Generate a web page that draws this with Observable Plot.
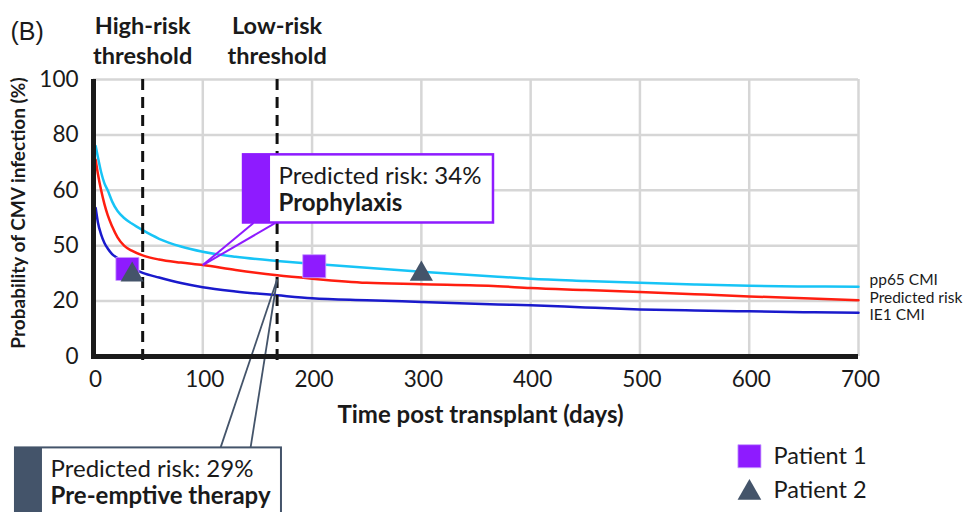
<!DOCTYPE html>
<html><head><meta charset="utf-8">
<script src="https://cdn.jsdelivr.net/npm/d3@7"></script>
<script src="https://cdn.jsdelivr.net/npm/@observablehq/plot@0.6"></script>
<style>html,body{margin:0;padding:0;background:#fff;overflow:hidden}svg{display:block}</style>
</head><body><div id="chart"></div>
<script>
// ---- data ----
const days      = [2, 4, 7, 10, 13, 17, 22, 28, 35, 45, 60, 80, 100, 130, 168, 200, 250, 300, 370, 400, 450, 500, 550, 600, 650, 700];
const pp65      = [76, 72, 66.5, 62.5, 60, 56, 52.5, 50, 48, 45.6, 42.5, 39.7, 37.8, 36, 34.5, 33.5, 32, 30.6, 28.8, 28.1, 27.3, 26.6, 26, 25.5, 25.3, 25.2];
const predicted = [71, 66, 60, 55, 51, 47, 43, 40, 38.2, 36.5, 35, 33.9, 33, 31.2, 29.3, 28.1, 26.6, 26.1, 25.4, 24.7, 24, 23.3, 22.5, 21.7, 21, 20.3];
const ie1       = [53.6, 48.5, 44, 41, 39, 37, 35.5, 33.5, 32, 30.2, 28.5, 26.5, 25, 23.5, 22.1, 21, 20.3, 19.7, 18.8, 18.5, 17.7, 17, 16.6, 16.3, 16, 15.8];
const seriesNames = ["pp65 CMI", "Predicted risk", "IE1 CMI"];
const seriesLabelY = [27.5, 21.2, 14.8];

const patient1Days = [31, 202];
const patient1Risk = [31.6, 32.6];
const patient2Days = [35.4, 300];
const patient2Risk = [29.5, 29.8];
const patientNames = ["Patient 1", "Patient 2"];

const thresholdDays  = [45, 168];
const thresholdNames = ["High-risk\nthreshold", "Low-risk\nthreshold"];

const xTicks = [0, 100, 200, 300, 400, 500, 600, 700];
const yTicks = [0, 20, 40, 60, 80, 100];
const yTickLabels = ["0", "20", "50", "60", "80", "100"];

const callout1Text = ["Predicted risk: 34%", "Prophylaxis"];
const callout1Target = {day: 100, risk: 33};
const callout2Text = ["Predicted risk: 29%", "Pre-emptive therapy"];
const callout2Target = {day: 168, risk: 27.8};

// ---- styling ----
const C = {pp65: "#17C4F6", pred: "#FF1E10", ie1: "#1A1ACC", p1: "#8E1BFF", p2: "#44546A", grid: "#d6d6d6", axis: "#1a1a1a"};
const F = "Lato, 'Open Sans', sans-serif";

const rows = (vals) => days.map((d, i) => ({day: d, value: vals[i]}));
const pts = (ds, vs) => ds.map((d, i) => ({day: d, value: vs[i]}));

// callout geometry (in data units)
const box1 = {x1: 137.3, xs: 162, x2: 366, y1: 48.2, y2: 72.8};
const lead1 = [146.4, 166.5].map(x => ({x1: x, y1: box1.y1, x2: callout1Target.day, y2: callout1Target.risk}));
const box2 = {x1: -71.4, xs: -46.7, x2: 172, y1: -33, y2: -62};
const lead2 = [116.2, 143.7].map(x => ({x1: x, y1: box2.y1, x2: callout2Target.day, y2: callout2Target.risk}));

const chart = Plot.plot({
  width: 966, height: 512,
  marginLeft: 93, marginRight: 108, marginTop: 79, marginBottom: 156,
  style: {fontFamily: F, background: "#fff", color: "#1a1a1a"},
  x: {domain: [0, 700]},
  y: {domain: [0, 100]},
  marks: [
    Plot.gridX(xTicks.filter(d => d > 0), {stroke: C.grid, strokeOpacity: 1, strokeWidth: 2.5}),
    Plot.gridY(yTicks.filter(d => d > 0), {stroke: C.grid, strokeOpacity: 1, strokeWidth: 2.5}),
    Plot.axisX({ticks: xTicks, tickSize: 0, tickPadding: 15, fontSize: 22.5, label: null, dx: 2}),
    Plot.axisY({ticks: yTicks, tickSize: 0, tickPadding: 15, fontSize: 22.5, label: null,
      tickFormat: d => yTickLabels[yTicks.indexOf(d)]}),
    Plot.line(rows(pp65), {x: "day", y: "value", stroke: C.pp65, strokeWidth: 2.5, curve: "monotone-x"}),
    Plot.line(rows(predicted), {x: "day", y: "value", stroke: C.pred, strokeWidth: 2.5, curve: "monotone-x"}),
    Plot.line(rows(ie1), {x: "day", y: "value", stroke: C.ie1, strokeWidth: 2.5, curve: "monotone-x"}),
    Plot.ruleX(thresholdDays, {stroke: "#111", strokeWidth: 3, strokeDasharray: "11,7", insetBottom: -10}),
    Plot.text(thresholdDays, {x: d => d, y: () => 100, text: (d, i) => thresholdNames[i], dy: -40,
      lineHeight: 1.28, fontSize: 23.5, fontWeight: "bold"}),
    Plot.text(seriesNames, {x: () => 700, y: (d, i) => seriesLabelY[i], text: d => d, dx: 11,
      textAnchor: "start", fontSize: 15.5}),
    // callout 1
    Plot.link(lead1, {x1: "x1", y1: "y1", x2: "x2", y2: "y2", stroke: C.p1, strokeWidth: 2}),
    Plot.rect([box1], {x1: "x1", x2: "x2", y1: "y1", y2: "y2", fill: "#fff", stroke: C.p1, strokeWidth: 2.5}),
    Plot.rect([box1], {x1: "x1", x2: "xs", y1: "y1", y2: "y2", fill: C.p1}),
    Plot.text([callout1Text[0]], {x: () => 169.3, y: () => 64.9, textAnchor: "start", fontSize: 24}),
    Plot.text([callout1Text[1]], {x: () => 169.3, y: () => 55.4, textAnchor: "start", fontSize: 24, fontWeight: "bold"}),
    // callout 2
    Plot.link(lead2, {x1: "x1", y1: "y1", x2: "x2", y2: "y2", stroke: C.p2, strokeWidth: 1.8}),
    Plot.rect([box2], {x1: "x1", x2: "x2", y1: "y1", y2: "y2", fill: "#fff", stroke: C.p2, strokeWidth: 2}),
    Plot.rect([box2], {x1: "x1", x2: "xs", y1: "y1", y2: "y2", fill: C.p2}),
    Plot.text([callout2Text[0]], {x: () => -39.3, y: () => -40.9, textAnchor: "start", fontSize: 24}),
    Plot.text([callout2Text[1]], {x: () => -39.3, y: () => -50.4, textAnchor: "start", fontSize: 24, fontWeight: "bold"}),
    // patients
    Plot.dot(pts(patient1Days, patient1Risk), {x: "day", y: "value", symbol: "square", r: 13, fill: C.p1, stroke: "#c9a2ff", strokeWidth: 0.8}),
    Plot.dot(pts(patient2Days, patient2Risk), {x: "day", y: "value", symbol: "triangle", r: 8.6, fill: C.p2}),
    // axis lines
    Plot.ruleX([0], {stroke: C.axis, strokeWidth: 5}),
    Plot.ruleY([0], {stroke: C.axis, strokeWidth: 5, insetLeft: -2}),
    // axis titles
    Plot.text(["Probability of CMV infection (%)"], {frameAnchor: "left", textAnchor: "middle", rotate: -90, dx: -75, dy: -5,
      fontWeight: "bold", fontSize: 19}),
    Plot.text(["Time post transplant (days)"], {frameAnchor: "bottom", textAnchor: "middle", dx: 4.5, dy: 66, fontWeight: "bold", fontSize: 24}),
    Plot.text(["(B)"], {frameAnchor: "top-left", dx: -83, dy: -57, textAnchor: "start", fontSize: 25,
      fontFamily: "'Liberation Sans', Arial, sans-serif"}),
    // patient legend
    Plot.dot([patientNames[0]], {x: () => 600.2, y: () => -36, symbol: "square", r: 13, fill: C.p1, stroke: "#c9a2ff", strokeWidth: 0.8}),
    Plot.dot([patientNames[1]], {x: () => 600.2, y: () => -49.2, symbol: "triangle", r: 8.8, fill: C.p2}),
    Plot.text(patientNames, {x: () => 600.2, y: (d, i) => [-36, -48.2][i], text: d => d, dx: 24, textAnchor: "start", fontSize: 23.5})
  ]
});
document.getElementById("chart").appendChild(chart);
</script>
</body></html>
